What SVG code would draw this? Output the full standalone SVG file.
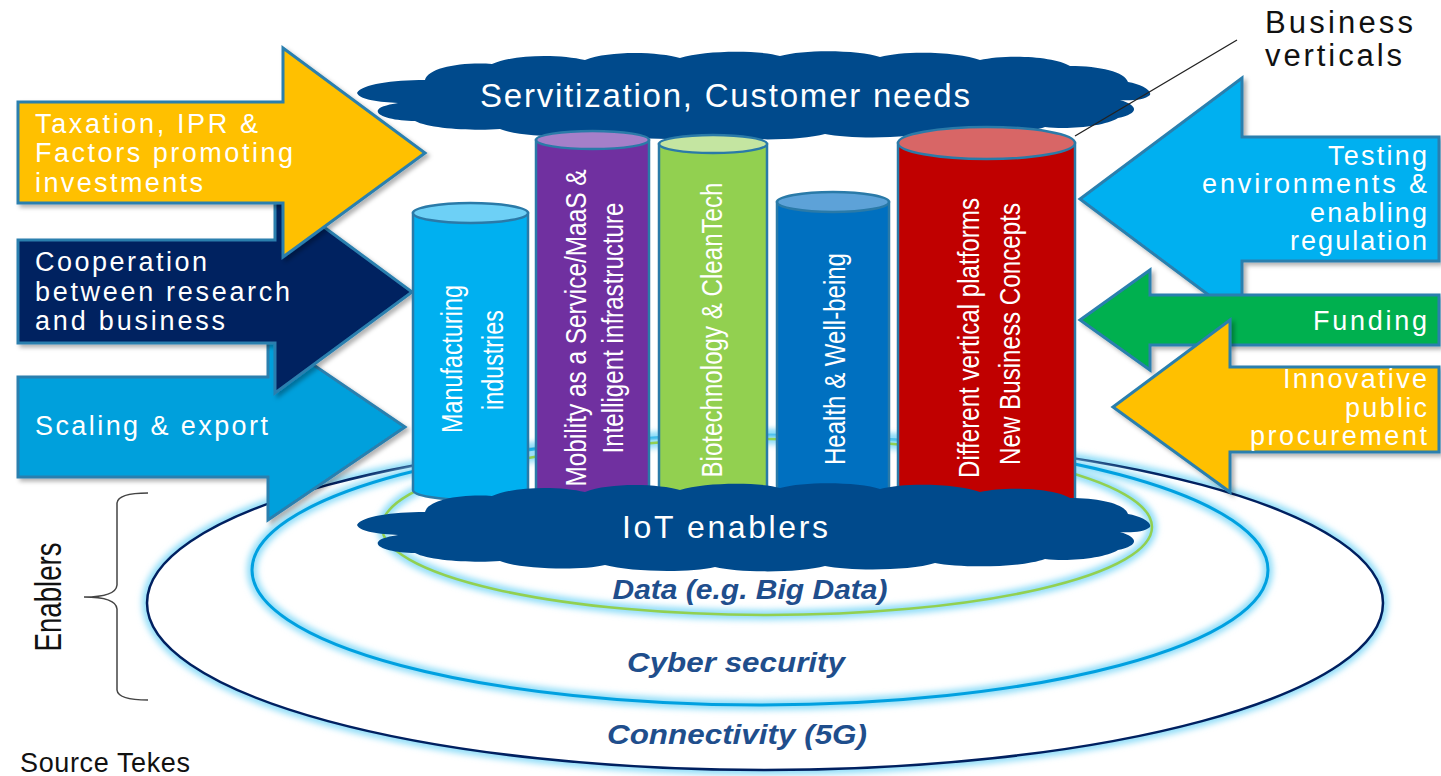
<svg xmlns="http://www.w3.org/2000/svg" width="1441" height="776" viewBox="0 0 1441 776">
<defs>
<style>
.t{font-family:"Liberation Sans",Arial,sans-serif}
.w{fill:#ffffff}
.arr{font-size:27px}
.cyl{font-size:30px}
.ring{font-family:"Liberation Sans",Arial,sans-serif;font-weight:bold;font-style:italic;font-size:28px;fill:#1F4E8C}
.ast{stroke:#2A7FAE;stroke-width:3;stroke-linejoin:miter}
.cst{stroke:#2A7AA8;stroke-width:2.5}
.glow{fill:none;stroke:#8FDDF8;stroke-width:10}
.blk{fill:#111111}
</style>
<filter id="glow" x="-5%" y="-10%" width="110%" height="120%"><feGaussianBlur stdDeviation="3"/></filter>
<filter id="shadow" x="-5%" y="-5%" width="115%" height="120%"><feDropShadow dx="3" dy="3" stdDeviation="2" flood-color="#000" flood-opacity="0.3"/></filter>
<path id="cloud" d="M357,93 C362,84 392,80 425,80 C428,68 460,62 492,64 C515,54 560,54 585,60 C610,50 660,52 680,58 C705,50 760,50 780,56 C805,49 860,50 880,57 C905,50 960,52 980,60 C1005,54 1055,56 1070,66 C1100,66 1125,72 1128,82 C1140,84 1152,90 1150,95 C1145,100 1130,101 1120,100 C1140,106 1138,114 1118,118 C1105,126 1070,130 1045,127 C1020,136 960,136 935,131 C910,139 850,139 825,134 C800,141 740,141 715,135 C690,141 630,140 605,133 C580,139 520,137 500,129 C475,131 430,129 415,121 C395,121 375,116 378,110 C380,106 392,104 398,103 C380,102 360,100 357,93 Z" fill="#004A8C"/>
</defs>
<rect width="1441" height="776" fill="#ffffff"/>

<g id="rings">
<ellipse class="glow" cx="765" cy="603" rx="618" ry="167" filter="url(#glow)"/>
<ellipse cx="765" cy="603" rx="618" ry="167" fill="#ffffff" stroke="#002060" stroke-width="2.5"/>
<ellipse class="glow" cx="760" cy="570" rx="508" ry="135" filter="url(#glow)"/>
<ellipse cx="760" cy="570" rx="508" ry="135" fill="none" stroke="#00A0E0" stroke-width="3"/>
<ellipse class="glow" cx="767" cy="527" rx="385" ry="88" filter="url(#glow)"/>
<ellipse cx="767" cy="527" rx="385" ry="88" fill="none" stroke="#92D050" stroke-width="2.5"/>
<text class="ring" x="750" y="599" text-anchor="middle" textLength="275" lengthAdjust="spacingAndGlyphs">Data (e.g. Big Data)</text>
<text class="ring" x="736" y="672" text-anchor="middle" textLength="218" lengthAdjust="spacingAndGlyphs">Cyber security</text>
<text class="ring" x="737" y="744" text-anchor="middle" textLength="260" lengthAdjust="spacingAndGlyphs">Connectivity (5G)</text>
</g>

<g id="cloud-top">
<use href="#cloud"/>
<text class="t w" x="725" y="107" font-size="33" text-anchor="middle" textLength="490">Servitization, Customer needs</text>
</g>

<g id="arrow-scaling">
<polygon class="ast" fill="#00A0DC" filter="url(#shadow)" points="18,377 268,377 268,334 405,427 268,520 268,477 18,477"/>
<text class="t w arr" x="35" y="435" textLength="233">Scaling &amp; export</text>
</g>
<g id="arrow-cooperation">
<polygon class="ast" fill="#002060" filter="url(#shadow)" points="18,240 275,240 275,191 412,292 275,393 275,343 18,343"/>
<text class="t w arr" x="35" y="271" textLength="172">Cooperation</text>
<text class="t w arr" x="35" y="301" textLength="255">between research</text>
<text class="t w arr" x="35" y="330" textLength="190">and business</text>
</g>
<g id="arrow-taxation">
<polygon class="ast" fill="#FFC000" filter="url(#shadow)" points="18,102 283,102 283,48 425,153 283,257 283,203 18,203"/>
<text class="t w arr" x="35" y="133" textLength="223">Taxation, IPR &amp;</text>
<text class="t w arr" x="35" y="162" textLength="258">Factors promoting</text>
<text class="t w arr" x="35" y="192" textLength="168">investments</text>
</g>

<g id="arrow-testing">
<polygon class="ast" fill="#00B0F0" filter="url(#shadow)" points="1439,137 1242,137 1242,78 1080,199 1242,320 1242,261 1439,261"/>
<text class="t w arr" x="1328" y="165" textLength="99">Testing</text>
<text class="t w arr" x="1202" y="193" textLength="225">environments &amp;</text>
<text class="t w arr" x="1310" y="222" textLength="117">enabling</text>
<text class="t w arr" x="1290" y="250" textLength="137">regulation</text>
</g>
<g id="arrow-funding">
<polygon class="ast" fill="#00B050" filter="url(#shadow)" points="1439,295 1150,295 1150,270 1080,320 1150,370 1150,345 1439,345"/>
<text class="t w arr" x="1313" y="330" textLength="114">Funding</text>
</g>
<g id="arrow-procurement">
<polygon class="ast" fill="#FFC000" filter="url(#shadow)" points="1439,367 1230,367 1230,320 1113,407 1230,492 1230,452 1439,452"/>
<text class="t w arr" x="1283" y="388" textLength="144">Innovative</text>
<text class="t w arr" x="1345" y="417" textLength="82">public</text>
<text class="t w arr" x="1250" y="445" textLength="177">procurement</text>
</g>

<g id="cyl-manufacturing">
<path class="cst" fill="#00B0F0" d="M413,213 V490 A57.5,10 0 0 0 528,490 V213 Z"/>
<ellipse class="cst" fill="#6DD0F6" cx="470.5" cy="213" rx="57.5" ry="10"/>
<text class="t w cyl" transform="translate(462,359) rotate(-90)" text-anchor="middle" textLength="148" lengthAdjust="spacingAndGlyphs">Manufacturing</text>
<text class="t w cyl" transform="translate(503,360) rotate(-90)" text-anchor="middle" textLength="100" lengthAdjust="spacingAndGlyphs">industries</text>
</g>
<g id="cyl-mobility">
<path class="cst" fill="#7030A0" d="M536,140 V500 A56.5,9 0 0 0 649,500 V140 Z"/>
<ellipse class="cst" fill="#A57FC9" cx="592.5" cy="140" rx="56.5" ry="9"/>
<text class="t w cyl" transform="translate(586,328) rotate(-90)" text-anchor="middle" textLength="317" lengthAdjust="spacingAndGlyphs">Mobility as a Service/MaaS &amp;</text>
<text class="t w cyl" transform="translate(623,328) rotate(-90)" text-anchor="middle" textLength="251" lengthAdjust="spacingAndGlyphs">Intelligent infrastructure</text>
</g>
<g id="cyl-biotech">
<path class="cst" fill="#92D050" d="M659,144 V500 A54,9 0 0 0 767,500 V144 Z"/>
<ellipse class="cst" fill="#C4E5A1" cx="713" cy="144" rx="54" ry="9"/>
<text class="t w cyl" transform="translate(722,330) rotate(-90)" text-anchor="middle" textLength="295" lengthAdjust="spacingAndGlyphs">Biotechnology &amp; CleanTech</text>
</g>
<g id="cyl-health">
<path class="cst" fill="#0070C0" d="M777,202 V500 A56,10 0 0 0 889,500 V202 Z"/>
<ellipse class="cst" fill="#5DA2D8" cx="833" cy="202" rx="56" ry="10"/>
<text class="t w cyl" transform="translate(845,359) rotate(-90)" text-anchor="middle" textLength="212" lengthAdjust="spacingAndGlyphs">Health &amp; Well-being</text>
</g>
<g id="cyl-platforms">
<path class="cst" fill="#C00000" d="M898,143 V500 A88.5,16 0 0 0 1075,500 V143 Z"/>
<ellipse class="cst" fill="#D86666" cx="986.5" cy="143" rx="88.5" ry="16"/>
<text class="t w cyl" transform="translate(979,338) rotate(-90)" text-anchor="middle" textLength="280" lengthAdjust="spacingAndGlyphs">Different vertical platforms</text>
<text class="t w cyl" transform="translate(1020,334) rotate(-90)" text-anchor="middle" textLength="262" lengthAdjust="spacingAndGlyphs">New Business Concepts</text>
</g>

<g id="cloud-iot">
<use href="#cloud" transform="translate(0,432)"/>
<text class="t w" x="725" y="538" font-size="32" text-anchor="middle" textLength="206">IoT enablers</text>
</g>

<g id="connectors">
<line x1="1237" y1="40" x2="1075" y2="136" stroke="#222222" stroke-width="1.3"/>
<path d="M148,493 Q118,493 117,503 L117,585 Q116,597 84,597 Q116,597 117,609 L117,690 Q118,700 148,700" fill="none" stroke="#444444" stroke-width="1.5"/>
</g>

<g id="label-business">
<text class="t blk" x="1265" y="33" font-size="31" textLength="148">Business</text>
<text class="t blk" x="1265" y="66" font-size="31" textLength="137">verticals</text>
</g>
<g id="label-enablers">
<text class="t blk" transform="translate(61,597) rotate(-90)" font-size="36" text-anchor="middle" textLength="109" lengthAdjust="spacingAndGlyphs">Enablers</text>
</g>
<g id="label-source">
<text class="t blk" x="20" y="772" font-size="27" textLength="170">Source Tekes</text>
</g>
</svg>
